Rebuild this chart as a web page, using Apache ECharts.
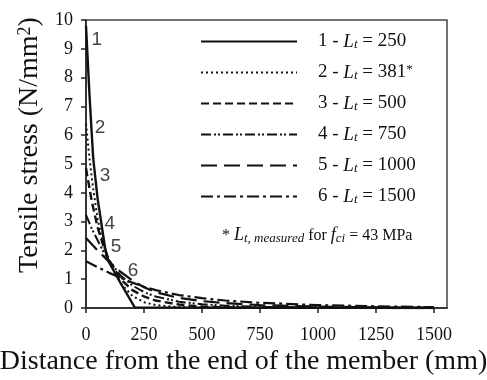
<!DOCTYPE html>
<html>
<head>
<meta charset="utf-8">
<script src="https://cdn.jsdelivr.net/npm/echarts@6/dist/echarts.min.js"></script>
<style>html,body{margin:0;padding:0;background:#fff}#c{width:487px;height:380px}</style>
</head>
<body>
<div id="c"></div>
<script>
// ---- data ----
var transferLengths = ['250', '381', '500', '750', '1000', '1500'];
var curveNumbers = ['1', '2', '3', '4', '5', '6'];

var dist1 = [0, 15, 31, 50, 82, 95, 150, 210, 1500];
var stress1 = [9.8, 7.4, 5.2, 3.8, 2.1, 1.65, 0.85, 0.02, 0];

var dist2 = [0, 15, 30, 50, 75, 100, 150, 200, 250, 300, 400, 500, 1500];
var stress2 = [6.4, 5.2, 4.2, 3.1, 2.2, 1.6, 0.85, 0.42, 0.2, 0.1, 0.03, 0.01, 0];

var dist3 = [0, 25, 50, 75, 100, 150, 200, 250, 300, 400, 500, 600, 750, 1500];
var stress3 = [4.85, 3.7, 2.8, 2.15, 1.65, 1.0, 0.62, 0.4, 0.26, 0.12, 0.05, 0.02, 0.01, 0];

var dist4 = [0, 25, 50, 75, 100, 150, 200, 250, 300, 400, 500, 600, 750, 1000, 1500];
var stress4 = [3.23, 2.75, 2.35, 1.95, 1.65, 1.12, 0.78, 0.55, 0.4, 0.22, 0.13, 0.08, 0.04, 0.015, 0];

var dist5 = [0, 50, 100, 150, 200, 250, 300, 400, 500, 600, 750, 1000, 1250, 1500];
var stress5 = [2.43, 2.0, 1.6, 1.25, 0.95, 0.72, 0.55, 0.35, 0.24, 0.17, 0.1, 0.05, 0.02, 0.01];

var dist6 = [0, 50, 100, 150, 200, 250, 300, 400, 500, 600, 750, 1000, 1250, 1500];
var stress6 = [1.62, 1.42, 1.22, 1.05, 0.88, 0.74, 0.62, 0.45, 0.34, 0.26, 0.18, 0.1, 0.06, 0.03];

// curve number annotations (distance, stress)
var curveLabelDist = [47, 60, 82, 103, 129, 203];
var curveLabelStress = [9.3, 6.27, 4.6, 2.93, 2.13, 1.29];

var xTicks = [0, 250, 500, 750, 1000, 1250, 1500];

// ---- chart ----
var dists = [dist1, dist2, dist3, dist4, dist5, dist6];
var stresses = [stress1, stress2, stress3, stress4, stress5, stress6];
var dashTypes = ['solid', [2, 3], [8, 4], [10, 3, 2, 2, 2, 3], [16, 7], [12, 4, 3, 4]];
var widths = [2.4, 2, 2.4, 2, 2.2, 2.2];

function pairs(xs, ys) { return xs.map(function (x, i) { return [x, ys[i]]; }); }

var serif = '"Liberation Serif", "Times New Roman", serif';
var names = transferLengths.map(function (L, i) { return curveNumbers[i] + ' - Lt = ' + L; });

var series = names.map(function (n, i) {
  return {
    name: n, type: 'line', data: pairs(dists[i], stresses[i]),
    symbol: 'none', smooth: false, silent: true,
    lineStyle: { color: '#111', width: widths[i], type: dashTypes[i] },
    itemStyle: { color: '#111' }
  };
});
series.push({
  type: 'scatter', silent: true, symbolSize: 0,
  data: curveLabelDist.map(function (d, i) { return [d, curveLabelStress[i]]; }),
  label: {
    show: true, position: 'inside',
    formatter: function (p) { return curveNumbers[p.dataIndex]; },
    fontFamily: '"Liberation Sans", Arial, sans-serif', fontSize: 19, color: '#111'
  }
});

var chart = echarts.init(document.getElementById('c'), null, { renderer: 'canvas' });
chart.setOption({
  animation: false,
  backgroundColor: '#fff',
  grid: { left: 86, right: 40, top: 20, bottom: 72, show: true, borderColor: '#444', borderWidth: 1.5 },
  title: [
    {
      text: '{n|* }{i|L}{s|t, measured}{n| for }{i|f}{s|ci}{n| = 43 MPa}',
      left: 217, top: 221,
      textStyle: {
        fontWeight: 'normal',
        rich: {
          n: { fontFamily: serif, fontSize: 16, fontWeight: 'normal', color: '#111', lineHeight: 19 },
          i: { fontFamily: serif, fontSize: 18, fontStyle: 'italic', fontWeight: 'normal', color: '#111', lineHeight: 19 },
          s: { fontFamily: serif, fontSize: 13, fontStyle: 'italic', fontWeight: 'normal', color: '#111', verticalAlign: 'bottom', lineHeight: 12 }
        }
      }
    },
    {
      text: 'Distance from the end of the member (mm)',
      left: 'center', top: 343,
      textStyle: { fontFamily: serif, fontSize: 28, fontWeight: 'normal', color: '#111' }
    }
  ],
  legend: {
    data: names, orient: 'vertical', left: 195, top: 27,
    itemWidth: 96, itemHeight: 14, itemGap: 12,
    selectedMode: false,
    itemStyle: { opacity: 0, borderWidth: 0 },
    formatter: function (n) {
      var i = names.indexOf(n);
      var s = '{n|' + curveNumbers[i] + ' - }{i|L}{s|t}{n| = ' + transferLengths[i] + '}';
      if (i === 1) s += '{p|*}';
      return s;
    },
    textStyle: {
      padding: [0, 0, 0, 16],
      rich: {
        n: { fontFamily: serif, fontSize: 19, color: '#111', lineHeight: 19 },
        i: { fontFamily: serif, fontSize: 19, fontStyle: 'italic', color: '#111', lineHeight: 19 },
        s: { fontFamily: serif, fontSize: 13, fontStyle: 'italic', color: '#111', verticalAlign: 'bottom', lineHeight: 11 },
        p: { fontFamily: serif, fontSize: 13, color: '#111', verticalAlign: 'top', lineHeight: 11 }
      }
    }
  },
  xAxis: {
    type: 'value', min: 0, max: 1556,
    axisLine: { lineStyle: { color: '#222', width: 1.5 } },
    axisTick: { show: true, inside: false, length: 5, customValues: xTicks, lineStyle: { color: '#222', width: 1.5 } },
    axisLabel: {
      customValues: xTicks, margin: 18, fontFamily: serif, fontSize: 18, color: '#111',
      formatter: function (v) { return String(v); }
    },
    splitLine: { show: false }
  },
  yAxis: {
    type: 'value', min: 0, max: 10, interval: 1,
    name: 'Tensile stress (N/mm{sup|2})', nameLocation: 'middle', nameGap: 41,
    nameTextStyle: {
      fontFamily: serif, fontSize: 28, color: '#111', padding: [0, 0, 0, 38],
      rich: { sup: { fontFamily: serif, fontSize: 18, color: '#111', verticalAlign: 'top', lineHeight: 16 } }
    },
    axisLine: { show: true, lineStyle: { color: '#222', width: 1.5 } },
    axisTick: { show: true, inside: false, length: 5, lineStyle: { color: '#222', width: 1.5 } },
    axisLabel: { margin: 13, fontFamily: serif, fontSize: 18, color: '#111' },
    splitLine: { show: false }
  },
  series: series
});
</script>
</body>
</html>
